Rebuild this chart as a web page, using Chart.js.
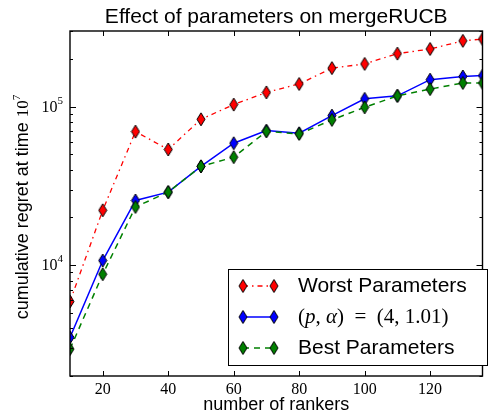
<!DOCTYPE html>
<html>
<head>
<meta charset="utf-8">
<script src="https://cdn.jsdelivr.net/npm/chart.js@4/dist/chart.umd.min.js"></script>
<style>
  html, body { margin: 0; padding: 0; background: #fff; }
  canvas { display: block; }
</style>
</head>
<body>
<canvas id="chart" width="490" height="417"></canvas>
<script>
// data
const rankers = [10, 20, 30, 40, 50, 60, 70, 80, 90, 100, 110, 120, 130, 136];
const worstParams = [5900, 22200, 69600, 53700, 83200, 103000, 123000, 139000, 175000, 186000, 216000, 231000, 260000, 267000];
const tunedParams = [3500, 10700, 25600, 28900, 42000, 58800, 70600, 68000, 87800, 112000, 117000, 148000, 155000, 157000];
const bestParams = [2960, 8770, 23300, 28900, 42000, 48000, 69800, 67300, 82500, 99000, 117000, 129000, 141000, 141000];

const xTicks = [20, 40, 60, 80, 100, 120];
const yMajor = [1e4, 1e5];
const yMin = 2000, yMax = 300000;

const SANS = '"Liberation Sans", Arial, sans-serif';
const SERIF = '"Liberation Serif", "DejaVu Serif", serif';

// thin diamond marker like matplotlib 'd'
function diamond(fill) {
  const c = document.createElement('canvas');
  c.width = 10; c.height = 15;
  const g = c.getContext('2d');
  g.beginPath();
  g.moveTo(5, 1); g.lineTo(9, 7.5); g.lineTo(5, 14); g.lineTo(1, 7.5);
  g.closePath();
  g.fillStyle = fill; g.fill();
  g.lineWidth = 1; g.strokeStyle = '#000'; g.stroke();
  return c;
}

const pts = xs => ys => xs.map((x, i) => ({ x: x, y: ys[i] }));
const toPts = pts(rankers);

const series = [
  { label: 'Worst Parameters', data: toPts(worstParams), color: '#ff0000', dash: [5, 4, 1.5, 4], width: 1.3, order: 2 },
  { label: 'tuned', data: toPts(tunedParams), color: '#0000ff', dash: [], width: 1.5, order: 1 },
  { label: 'Best Parameters', data: toPts(bestParams), color: '#008000', dash: [6, 5], width: 1.5, order: 0 }
];
series.forEach(s => { s.marker = diamond(s.color); });

function drawMath(ctx, x, y, size) {
  // (p, α) = (4, 1.01), with TeX-like spacing
  const parts = [
    ['(', ''], ['p', 'italic '], [', ', ''], ['α', 'italic '], [')', ''],
    ['  =  ', ''], ['(4, 1.01)', '']
  ];
  ctx.textAlign = 'left';
  ctx.textBaseline = 'middle';
  parts.forEach(p => {
    ctx.font = p[1] + size + 'px ' + SERIF;
    ctx.fillText(p[0], x, y);
    x += ctx.measureText(p[0]).width;
  });
}

const decor = {
  id: 'decor',
  afterDraw(chart) {
    const ctx = chart.ctx;
    const a = chart.chartArea;
    const xs = chart.scales.x, ys = chart.scales.y;
    ctx.save();
    ctx.fillStyle = '#000';
    ctx.strokeStyle = '#000';

    // frame
    ctx.lineWidth = 1.4;
    ctx.strokeRect(a.left, a.top, a.right - a.left, a.bottom - a.top);

    // ticks, pointing inward on all sides
    ctx.lineWidth = 1;
    ctx.beginPath();
    xTicks.forEach(v => {
      const px = Math.round(xs.getPixelForValue(v)) + 0.5;
      ctx.moveTo(px, a.bottom); ctx.lineTo(px, a.bottom - 5);
      ctx.moveTo(px, a.top); ctx.lineTo(px, a.top + 5);
    });
    for (let dec = 1000; dec <= yMax; dec *= 10) {
      for (let m = 1; m <= 9; m++) {
        const v = dec * m;
        if (v < yMin || v > yMax) continue;
        const py = Math.round(ys.getPixelForValue(v)) + 0.5;
        const len = m === 1 ? 6 : 3;
        ctx.moveTo(a.left, py); ctx.lineTo(a.left + len, py);
        ctx.moveTo(a.right, py); ctx.lineTo(a.right - len, py);
      }
    }
    ctx.stroke();

    // x tick labels
    ctx.font = '16px ' + SERIF;
    ctx.textAlign = 'center';
    ctx.textBaseline = 'middle';
    xTicks.forEach(v => ctx.fillText(String(v), xs.getPixelForValue(v), a.bottom + 14));

    // y tick labels 10^n
    yMajor.forEach(v => {
      const py = ys.getPixelForValue(v);
      const exp = String(Math.round(Math.log10(v)));
      ctx.font = '11px ' + SERIF;
      const ew = ctx.measureText(exp).width;
      ctx.textAlign = 'right';
      ctx.textBaseline = 'middle';
      ctx.fillText(exp, a.left - 7, py - 6);
      ctx.font = '16px ' + SERIF;
      ctx.fillText('10', a.left - 7 - ew, py + 1);
    });

    // title
    ctx.font = '21px ' + SANS;
    ctx.textAlign = 'center';
    ctx.textBaseline = 'alphabetic';
    ctx.fillText('Effect of parameters on mergeRUCB', (a.left + a.right) / 2, 23);

    // x axis title
    ctx.font = '18px ' + SANS;
    ctx.textBaseline = 'middle';
    ctx.fillText('number of rankers', (a.left + a.right) / 2, 405);

    // y axis title, rotated
    ctx.save();
    ctx.translate(23, 207);
    ctx.rotate(-Math.PI / 2);
    const t1 = 'cumulative regret at time ';
    ctx.font = '18px ' + SANS;
    const w1 = ctx.measureText(t1).width;
    ctx.font = '17px ' + SERIF;
    const w2 = ctx.measureText('10').width;
    ctx.font = '11px ' + SERIF;
    const w3 = ctx.measureText('7').width;
    let x0 = -(w1 + w2 + w3) / 2;
    ctx.textAlign = 'left';
    ctx.textBaseline = 'middle';
    ctx.font = '18px ' + SANS;
    ctx.fillText(t1, x0, 0);
    x0 += w1;
    ctx.font = '17px ' + SERIF;
    ctx.fillText('10', x0, 1);
    x0 += w2;
    ctx.font = '11px ' + SERIF;
    ctx.fillText('7', x0, -6);
    ctx.restore();

    // legend
    const lx = 228, ly = 269, lw = 259, lh = 96;
    ctx.fillStyle = '#fff';
    ctx.fillRect(lx, ly, lw, lh);
    ctx.lineWidth = 1;
    ctx.strokeStyle = '#000';
    ctx.strokeRect(lx + 0.5, ly + 0.5, lw, lh);
    const rows = [286, 317, 348];
    series.forEach((s, i) => {
      const y = rows[i];
      ctx.strokeStyle = s.color;
      ctx.lineWidth = s.width;
      ctx.setLineDash(s.dash);
      ctx.beginPath();
      ctx.moveTo(243, y); ctx.lineTo(274, y);
      ctx.stroke();
      ctx.setLineDash([]);
      ctx.drawImage(s.marker, 243 - 5, y - 7.5);
      ctx.drawImage(s.marker, 274 - 5, y - 7.5);
      ctx.fillStyle = '#000';
      if (i === 1) {
        drawMath(ctx, 298, y, 21);
      } else {
        ctx.font = '21px ' + SANS;
        ctx.textAlign = 'left';
        ctx.textBaseline = 'middle';
        ctx.fillText(s.label, 298, y);
      }
    });
    ctx.restore();
  }
};

new Chart(document.getElementById('chart'), {
  type: 'line',
  data: {
    datasets: series.map(s => ({
      label: s.label,
      data: s.data,
      borderColor: s.color,
      borderWidth: s.width,
      borderDash: s.dash,
      pointStyle: s.marker,
      pointRadius: 6,
      pointHoverRadius: 6,
      tension: 0,
      fill: false,
      clip: 0,
      order: s.order
    }))
  },
  options: {
    responsive: false,
    animation: false,
    devicePixelRatio: 1,
    layout: { padding: { top: 31, right: 2, left: 0, bottom: 0 } },
    scales: {
      x: {
        type: 'linear',
        min: 10,
        max: 136,
        grid: { display: false },
        border: { display: false },
        ticks: { display: false },
        afterFit: s => { s.height = 41; }
      },
      y: {
        type: 'logarithmic',
        min: yMin,
        max: yMax,
        grid: { display: false },
        border: { display: false },
        ticks: { display: false },
        afterFit: s => { s.width = 70; }
      }
    },
    plugins: {
      legend: { display: false },
      tooltip: { enabled: false }
    }
  },
  plugins: [decor]
});
</script>
</body>
</html>
